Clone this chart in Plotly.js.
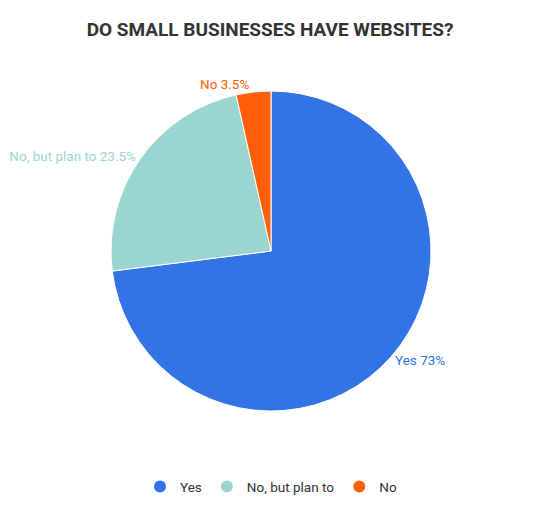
<!DOCTYPE html>
<html>
<head>
<meta charset="utf-8">
<script src="https://cdn.plot.ly/plotly-3.0.1.min.js"></script>
<style>
  html, body { margin: 0; padding: 0; background: #fff; }
  #chart { width: 540px; height: 526px; }
</style>
</head>
<body>
<div id="chart"></div>
<script>
// Small business website survey
const labels = ["Yes", "No, but plan to", "No"];
const values = [73, 23.5, 3.5];
const colors = ["#3273e6", "#9ad6cf", "#ff5f08"];

const FONT = "Roboto, 'Noto Sans', sans-serif";

const pie = {
  type: "pie",
  labels: labels,
  values: values,
  sort: false,
  direction: "clockwise",
  rotation: 0,
  marker: { colors: colors, line: { color: "#ffffff", width: 1 } },
  texttemplate: "%{label} %{value}%",
  textposition: "outside",
  outsidetextfont: { family: FONT, size: 13.5, color: colors },
  hoverinfo: "label+value",
  showlegend: false,
};

// legend with round markers, one dummy entry per category
const legendTraces = labels.map((name, i) => ({
  type: "scatter",
  mode: "markers",
  name: name,
  x: [null],
  y: [null],
  marker: { symbol: "circle", size: 16, color: colors[i] },
  hoverinfo: "skip",
}));

Plotly.newPlot(
  "chart",
  [pie, ...legendTraces],
  {
    width: 540,
    height: 526,
    paper_bgcolor: "#fff",
    plot_bgcolor: "#fff",
    font: { family: FONT, size: 13, color: "#333" },
    margin: { t: 91, b: 115, l: 2, r: 0 },
    title: {
      text: "<b>DO SMALL BUSINESSES HAVE WEBSITES?</b>",
      font: { family: FONT, size: 19, color: "#333" },
      x: 0.5, xanchor: "center",
      y: 0.945, yanchor: "middle",
    },
    xaxis: { visible: false },
    yaxis: { visible: false },
    legend: {
      orientation: "h",
      x: 0.5, xanchor: "center",
      y: -0.237, yanchor: "middle",
      font: { family: FONT, size: 13.5, color: "#333" },
      itemsizing: "constant",
    },
  },
  { displayModeBar: false }
);
</script>
</body>
</html>
